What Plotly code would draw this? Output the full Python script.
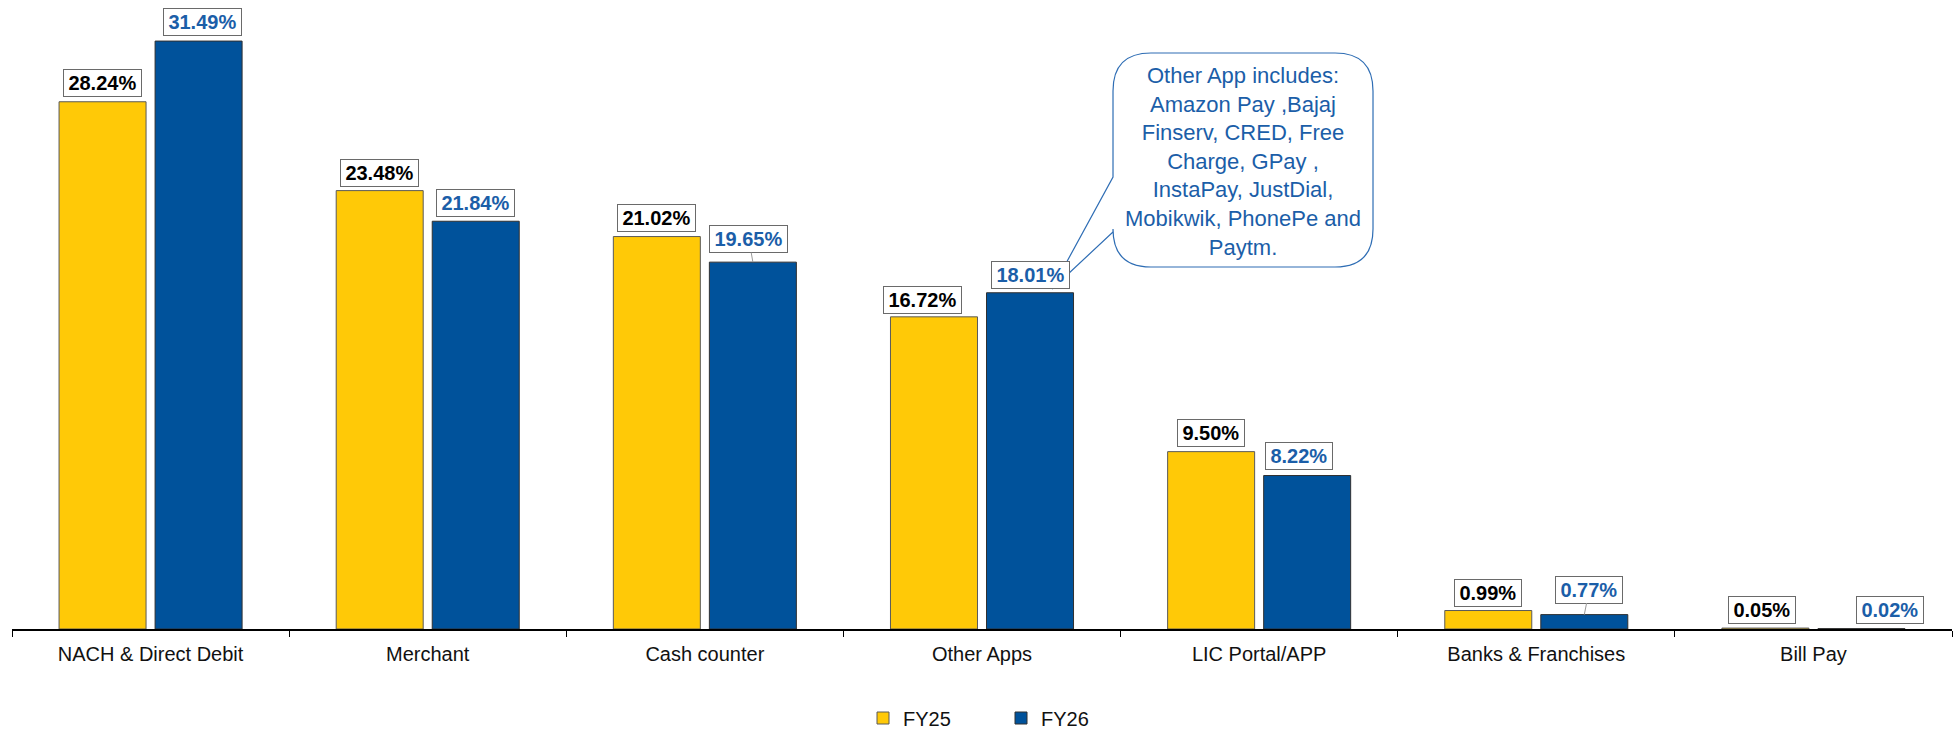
import plotly.graph_objects as go

categories = ["NACH & Direct Debit", "Merchant", "Cash counter", "Other Apps",
              "LIC Portal/APP", "Banks & Franchises", "Bill Pay"]
fy25 = [28.24, 23.48, 21.02, 16.72, 9.50, 0.99, 0.05]
fy26 = [31.49, 21.84, 19.65, 18.01, 8.22, 0.77, 0.02]
series_names = ["FY25", "FY26"]
callout_lines = ["Other App includes:", "Amazon Pay ,Bajaj", "Finserv, CRED, Free",
                 "Charge, GPay ,", "InstaPay, JustDial,", "Mobikwik, PhonePe and", "Paytm."]

YELLOW = "#FFC907"
BLUE = "#00529B"
LABEL_BLUE = "#1B5EA8"
FONT = "Liberation Sans, Arial, sans-serif"

W, H = 1953, 732
ML, MR, MT, MB = 12, 1, 0, 103
PW, PH = W - ML - MR, H - MT - MB
YMAX = 33.69
BARGAP, GROUPGAP = 0.307, 0.094
OFF = (1 - BARGAP) / 4  # bar centre offset in category units

# label layout tweaks (px): horizontal shift, gap above bar, leader line
lab_dx25 = [0, 0, 0, -11, 0, 0, -3]
lab_gap25 = [5, 4, 5, 3, 5, 4, 4]
lab_dx26 = [4, 0, -4, 0, -8, 5, 29]
lab_gap26 = [5, 4, 9, 4, 6, 11, 5]
lab_lead26 = [False, False, True, False, False, True, False]

fig = go.Figure()
fig.add_trace(go.Bar(x=categories, y=fy25, name=series_names[0],
                     marker=dict(color=YELLOW, line=dict(color="#5a5a5a", width=1))))
fig.add_trace(go.Bar(x=categories, y=fy26, name=series_names[1],
                     marker=dict(color=BLUE, line=dict(color="#303030", width=1))))

CW = {"0": 556, "1": 556, "2": 556, "3": 556, "4": 556, "5": 556, "6": 556,
      "7": 556, "8": 556, "9": 556, ".": 278, "%": 889}


def text_w(s, size=20):
    return sum(CW.get(c, 556) for c in s) * size / 1000.0


annotations = []
for series, vals, sign, color, dxs, gaps, leads in [
        (0, fy25, -1, "black", lab_dx25, lab_gap25, [False] * 7),
        (1, fy26, 1, LABEL_BLUE, lab_dx26, lab_gap26, lab_lead26)]:
    for i, v in enumerate(vals):
        txt = f"{v:.2f}%"
        tw = text_w(txt)
        common = dict(
            x=i + sign * OFF, y=v, xref="x", yref="y", text=f"<b>{txt}</b>",
            font=dict(family=FONT, size=20, color=color),
            bgcolor="white", bordercolor="#6a6a6a", borderwidth=1, borderpad=1,
            width=tw + 7, height=24,
        )
        if leads[i]:
            annotations.append(dict(common, showarrow=True, arrowhead=0, arrowwidth=1,
                                    arrowcolor="#9a9a9a", ax=dxs[i], ay=-(gaps[i] + 14),
                                    standoff=0, startstandoff=0))
        else:
            annotations.append(dict(common, showarrow=False, yanchor="bottom",
                                    xshift=dxs[i], yshift=gaps[i]))


def px2paper(px, py):
    return (px - ML) / PW, (MT + PH - py) / PH


# callout balloon (pixel geometry -> paper coords)
bx0, bx1, by0, by1, r = 1113, 1373, 53, 267, 38
tail_a, tail_b, tip = (1113, 177), (1113, 232), (1052, 289)


def P(px, py):
    x, y = px2paper(px, py)
    return f"{x:.5f},{y:.5f}"


path = (f"M{P(bx0 + r, by0)} L{P(bx1 - r, by0)} Q{P(bx1, by0)} {P(bx1, by0 + r)} "
        f"L{P(bx1, by1 - r)} Q{P(bx1, by1)} {P(bx1 - r, by1)} "
        f"L{P(bx0 + r, by1)} Q{P(bx0, by1)} {P(bx0, by1 - r)} "
        f"L{P(*tail_b)} L{P(*tip)} L{P(*tail_a)} "
        f"L{P(bx0, by0 + r)} Q{P(bx0, by0)} {P(bx0 + r, by0)} Z")
shapes = [dict(type="path", path=path, xref="paper", yref="paper",
               line=dict(color="#2E6DB4", width=1.2), fillcolor="white", layer="above")]

cx, cy = px2paper((bx0 + bx1) / 2, 161)
annotations.append(dict(x=cx, y=cy, xref="paper", yref="paper", showarrow=False,
                        text="<br>".join(callout_lines), align="center",
                        font=dict(family=FONT, size=22, color=LABEL_BLUE),
                        xanchor="center", yanchor="middle"))

fig.update_layout(
    width=W, height=H,
    margin=dict(l=ML, r=MR, t=MT, b=MB, pad=0, autoexpand=False),
    paper_bgcolor="white", plot_bgcolor="white",
    barmode="group", bargap=BARGAP, bargroupgap=GROUPGAP,
    font=dict(family=FONT, size=20, color="#111111"),
    showlegend=True,
    legend=dict(orientation="h", xref="container", yref="container",
                x=863 / W, xanchor="left", y=1 - 718 / H, yanchor="middle",
                font=dict(family=FONT, size=20, color="#111111"),
                entrywidth=93, entrywidthmode="pixels", itemwidth=30,
                bgcolor="rgba(0,0,0,0)"),
    annotations=annotations,
    shapes=shapes,
    xaxis=dict(type="category", range=[-0.5, 6.5], showline=True, linecolor="black",
               linewidth=1.5, ticks="outside", tickson="boundaries", ticklen=6,
               tickcolor="black", tickwidth=1, showgrid=False, zeroline=False,
               automargin=False, ticklabelstandoff=6,
               tickfont=dict(family=FONT, size=20, color="#111111"), fixedrange=True),
    yaxis=dict(range=[0, YMAX], visible=False, showgrid=False, zeroline=False,
               automargin=False, fixedrange=True),
)

fig.write_html("out.html", config={"displayModeBar": False},
               post_script="document.body.style.margin='0';document.body.style.overflow='hidden';")
